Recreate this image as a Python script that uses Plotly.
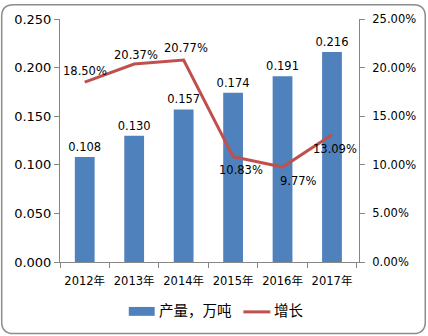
import plotly.graph_objects as go

# Annual output (10k tonnes) and year-on-year growth
years = ["2012年", "2013年", "2014年", "2015年", "2016年", "2017年"]
output = [0.108, 0.130, 0.157, 0.174, 0.191, 0.216]
growth = [0.1850, 0.2037, 0.2077, 0.1083, 0.0977, 0.1309]

bar_name = "产量，万吨"
line_name = "增长"

# pixel offsets of each growth label from its point
label_dx = [0, 2, 2, 8, 16, 3]
label_dy = [-11, -9, -12, 13, 14, 14]

BLUE = "#4F81BD"
RED = "#C0504D"
AXIS = "#868686"
FONT = "DejaVu Sans, Noto Sans CJK SC, sans-serif"
CJK = "Noto Sans CJK SC, sans-serif"

W, H = 428, 336
ML, MR, MT, MB = 60, 68, 16, 74
PW, PH = W - ML - MR, H - MT - MB


def px(x):
    return (x - ML) / PW


def py(y):
    return (H - MB - y) / PH


fig = go.Figure()

fig.add_trace(go.Bar(
    x=years, y=output, name=bar_name,
    marker=dict(color=BLUE, line=dict(width=0)),
    text=[f"{v:.3f}" for v in output], textposition="outside",
    constraintext="none",
    textfont=dict(family=FONT, size=11.5, color="#000000"),
    cliponaxis=False, showlegend=False,
))

fig.add_trace(go.Scatter(
    x=years, y=growth, name=line_name, yaxis="y2", mode="lines",
    line=dict(color=RED, width=3),
    cliponaxis=False, showlegend=False,
))

for yr, g, dx, dy in zip(years, growth, label_dx, label_dy):
    fig.add_annotation(
        x=yr, y=g, xref="x", yref="y2", text=f"{g * 100:.2f}%",
        showarrow=False, xshift=dx, yshift=-dy,
        font=dict(family=FONT, size=11.5, color="#000000"),
    )

axis_common = dict(
    showgrid=False, zeroline=False, showline=True, linecolor=AXIS, linewidth=1,
    ticks="outside", ticklen=5, tickcolor=AXIS, tickwidth=1,
)

fig.update_layout(
    width=W, height=H,
    margin=dict(l=ML, r=MR, t=MT, b=MB),
    paper_bgcolor="white", plot_bgcolor="white",
    bargap=0.6,
    xaxis=dict(**axis_common, tickson="boundaries", tickangle=0,
               ticklabelstandoff=8,
               tickfont=dict(family=FONT, size=11.5, color="#000000")),
    yaxis=dict(**axis_common, range=[0, 0.25], dtick=0.05, tickformat=".3f",
               tickfont=dict(family=FONT, size=13, color="#000000")),
    yaxis2=dict(**axis_common, overlaying="y", side="right",
                range=[0, 0.25], dtick=0.05, tickformat=".2%",
                ticklabelstandoff=5,
                tickfont=dict(family=FONT, size=11.5, color="#000000")),
)

# Legend drawn by hand: wide swatches as in office-style charts
leg_y = 312
fig.add_shape(type="rect", xref="paper", yref="paper",
              x0=px(129), x1=px(155), y0=py(leg_y - 4.5), y1=py(leg_y + 4.5),
              fillcolor=BLUE, line=dict(width=0))
fig.add_annotation(x=px(157), y=py(leg_y - 2), xref="paper", yref="paper",
                   text=bar_name, showarrow=False, xanchor="left", yanchor="middle",
                   font=dict(family=CJK, size=14.5, color="#000000"))
fig.add_shape(type="line", xref="paper", yref="paper",
              x0=px(244), x1=px(271), y0=py(leg_y + 0.5), y1=py(leg_y + 0.5),
              line=dict(color=RED, width=3))
fig.add_annotation(x=px(273), y=py(leg_y - 2), xref="paper", yref="paper",
                   text=line_name, showarrow=False, xanchor="left", yanchor="middle",
                   font=dict(family=CJK, size=14.5, color="#000000"))

# Rounded outer border
x0, y0, x1, y1, r = 1.5, 1.5, 426.5, 334.5, 12
pts = [
    f"M {px(x0 + r)},{py(y0)}",
    f"L {px(x1 - r)},{py(y0)}",
    f"Q {px(x1)},{py(y0)} {px(x1)},{py(y0 + r)}",
    f"L {px(x1)},{py(y1 - r)}",
    f"Q {px(x1)},{py(y1)} {px(x1 - r)},{py(y1)}",
    f"L {px(x0 + r)},{py(y1)}",
    f"Q {px(x0)},{py(y1)} {px(x0)},{py(y1 - r)}",
    f"L {px(x0)},{py(y0 + r)}",
    f"Q {px(x0)},{py(y0)} {px(x0 + r)},{py(y0)}",
    "Z",
]
fig.add_shape(type="path", xref="paper", yref="paper", path=" ".join(pts),
              line=dict(color="#8C8C8C", width=1.5), fillcolor="rgba(0,0,0,0)")

fig.write_html("out.html")
